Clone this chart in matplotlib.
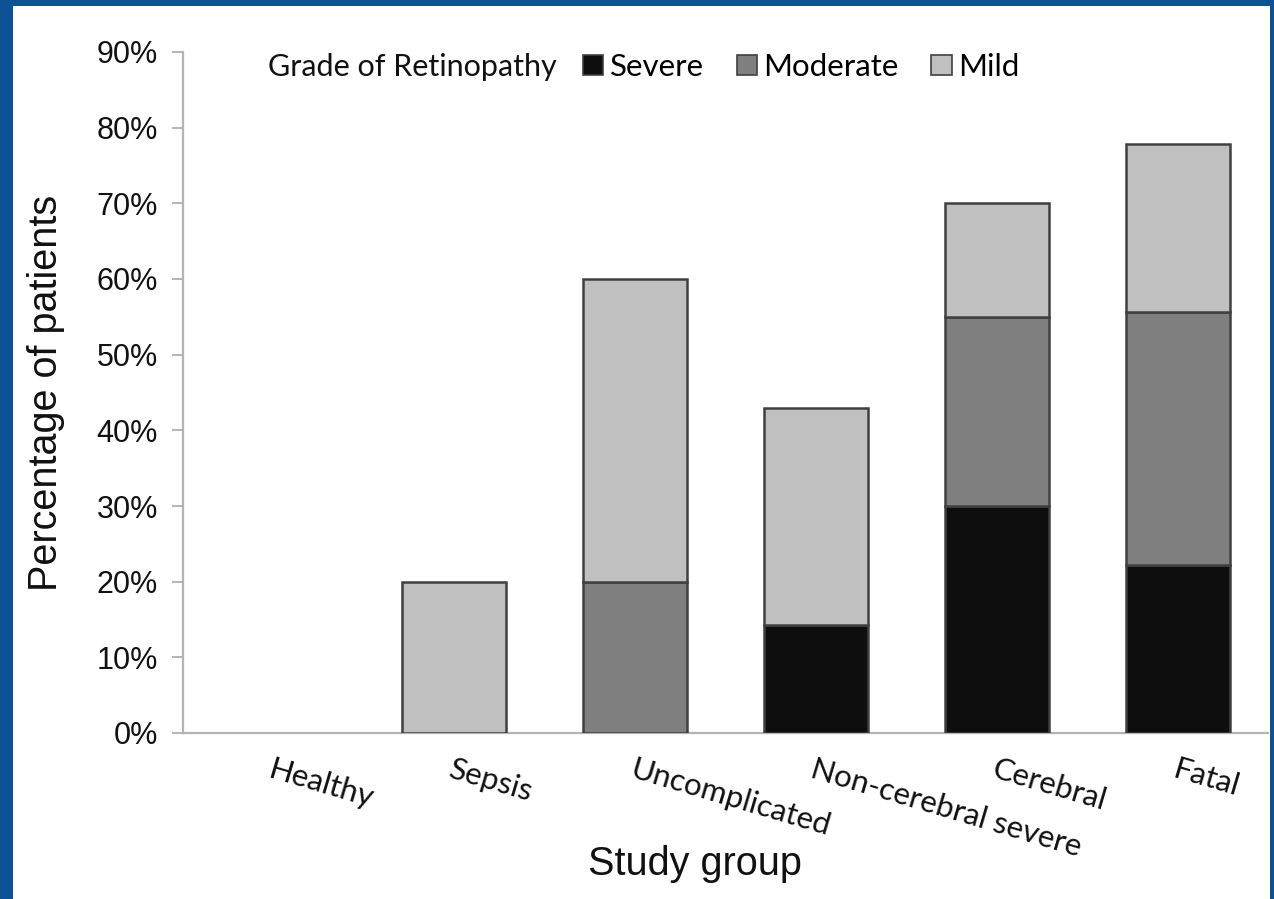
import numpy as np
import matplotlib.pyplot as plt
from matplotlib.patches import Patch, Rectangle
from matplotlib.ticker import PercentFormatter

# Retinopathy grade by study group (% of patients)
groups = ['Healthy', 'Sepsis', 'Uncomplicated', 'Non-cerebral severe', 'Cerebral', 'Fatal']
severe = [0, 0, 0, 14.3, 30.0, 22.2]
moderate = [0, 0, 20.0, 0, 25.0, 33.4]
mild = [0, 20.0, 40.0, 28.6, 15.0, 22.2]

grades = ['Severe', 'Moderate', 'Mild']
colors = ['#0e0e0e', '#7f7f7f', '#c0c0c0']

fig = plt.figure(figsize=(12.74, 8.99), dpi=100)
fig.patch.set_facecolor('#0c5295')
# white panel inside the blue frame
fig.patches.append(Rectangle((13 / 1274, 0), (1270 - 13) / 1274, 1 - 6 / 899,
                             transform=fig.transFigure, facecolor='white',
                             edgecolor='none', zorder=-10))

ax = fig.add_axes([183 / 1274, 1 - 733 / 899, (1268 - 183) / 1274, (733 - 52) / 899])
ax.set_facecolor('white')

x = np.arange(len(groups))
width = 0.575
bottom = np.zeros(len(groups))
for vals, col in zip([severe, moderate, mild], colors):
    vals = np.array(vals)
    mask = vals > 0
    ax.bar(x[mask], vals[mask], width, bottom=bottom[mask], color=col,
           edgecolor='#404040', linewidth=1.8, zorder=3)
    bottom += vals

ax.set_xlim(-0.5, len(groups) - 0.5)
ax.set_ylim(0, 90)
ax.set_yticks(np.arange(0, 91, 10))
ax.yaxis.set_major_formatter(PercentFormatter(decimals=0))

for s in ['top', 'right']:
    ax.spines[s].set_visible(False)
for s in ['left', 'bottom']:
    ax.spines[s].set_color('#b4b4b4')
    ax.spines[s].set_linewidth(1.6)

ax.tick_params(axis='y', length=8, width=1.4, color='#b4b4b4', pad=10,
               labelsize=22, labelcolor='#111111')
ax.tick_params(axis='x', length=0, pad=16)
for lab in ax.get_yticklabels():
    lab.set_fontfamily('Liberation Sans')

ax.set_xticks(x)
ax.set_xticklabels(groups, rotation=-16.5, ha='left', va='top',
                   rotation_mode='anchor', fontfamily='Lato', fontsize=22.5,
                   color='#111111')

ax.set_ylabel('Percentage of patients', fontfamily='Liberation Sans', fontsize=28.5,
              color='#111111')
ax.yaxis.set_label_coords(-0.109, 0.5)
ax.set_xlabel('Study group', fontfamily='Liberation Sans', fontsize=28.5,
              color='#111111', va='top')
ax.xaxis.set_label_coords(0.472, -0.165)

# legend with the title placed to the left
fig.text(268 / 1274, 1 - 67 / 899, 'Grade of Retinopathy', fontfamily='Lato',
         fontsize=22, va='center', ha='left', color='#111111')
handles = [Patch(facecolor=c, edgecolor='#404040', linewidth=1.2) for c in colors]
leg = fig.legend(handles, grades, loc='center left', ncol=3,
                 bbox_to_anchor=(583 / 1274, 1 - 67 / 899), frameon=False,
                 prop={'family': 'Lato', 'size': 22.5}, handlelength=0.65,
                 handleheight=0.65, handletextpad=0.2, columnspacing=1.05,
                 borderaxespad=0, borderpad=0)

fig.savefig('out.png', dpi=100, facecolor=fig.get_facecolor())
